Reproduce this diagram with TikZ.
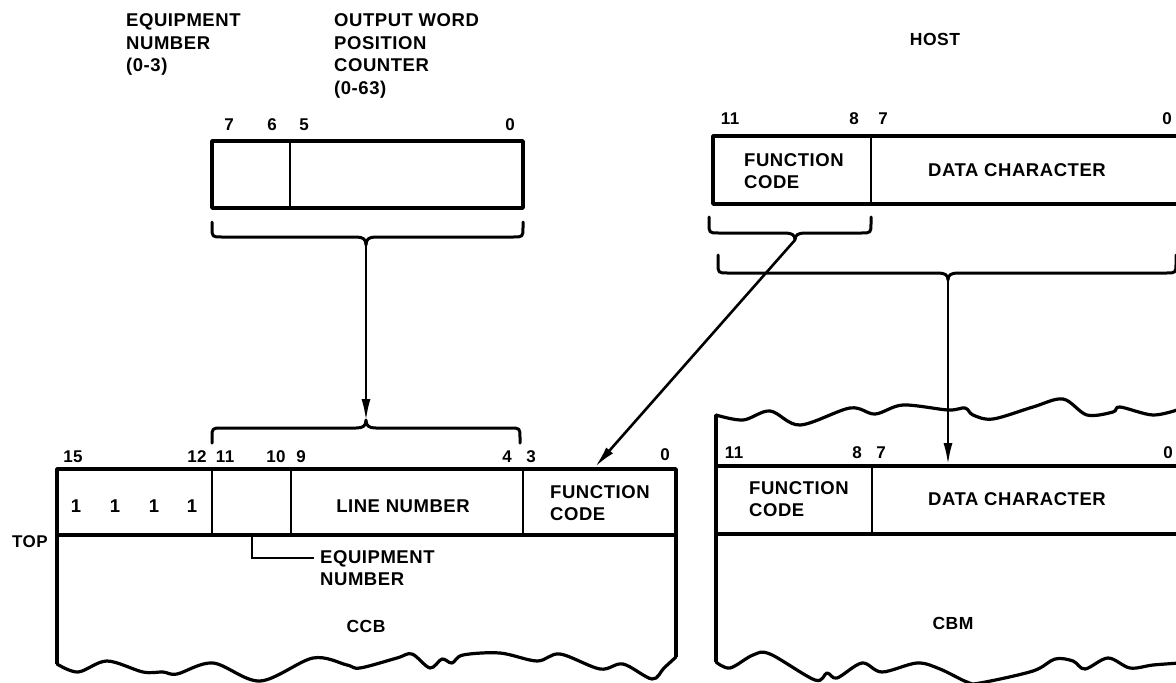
\documentclass[tikz,border=0pt]{standalone}
\usepackage{fontspec}
\setmainfont{Liberation Sans}[LetterSpace=3]
\usetikzlibrary{arrows.meta}
\tikzset{
  boxline/.style={line width=3.4pt, line join=round},
  divline/.style={line width=2.5pt},
  braceline/.style={line width=3pt, line join=round, line cap=round},
  lbl/.style={font=\fontsize{18.5}{22.5}\selectfont\bfseries, inner sep=0pt, align=left},
  num/.style={font=\fontsize{17}{19}\selectfont\bfseries, inner sep=0pt},
  arr/.style={line width=2.6pt, -{Latex[length=22pt,width=9pt]}},
  wave/.style={line width=3.2pt, line join=round, line cap=round}
}
\begin{document}
\begin{tikzpicture}[x=1pt,y=-1pt]
\useasboundingbox (0,0) rectangle (1176,683);
\clip (0,0) rectangle (1176,683);

% ---------- top-left heading texts
\node[lbl, anchor=north west] (eqhead) at (126,13.5) {EQUIPMENT\\NUMBER\\(0-3)};
\node[lbl, anchor=north west] (owhead) at (334,13.5) {OUTPUT WORD\\POSITION\\COUNTER\\(0-63)};
\node[lbl, font=\fontsize{17.5}{20}\selectfont\bfseries] (host) at (935,39) {HOST};

% ---------- top-left register
\node[num] (t7) at (229,125) {7};
\node[num] (t6) at (272,125) {6};
\node[num] (t5) at (304,125) {5};
\node[num] (t0) at (510,125) {0};
\draw[boxline] (212,141) rectangle (523,208);
\draw[divline] (290,141) -- (290,208);

% brace below it
\draw[braceline] (212,222) -- (212,227) .. controls (212,237) .. (222,237) -- (356,237)
  .. controls (363,237) and (366,239) .. (366,245)
  .. controls (366,239) and (369,237) .. (376,237) -- (513,237)
  .. controls (523,237) .. (523,227) -- (523,222);
\coordinate (b1) at (366,245);

% ---------- host register
\node[num] (h11) at (730,119) {11};
\node[num] (h8) at (854,119) {8};
\node[num] (h7) at (883,119) {7};
\node[num] (h0) at (1167,119) {0};
\draw[boxline] (713,136) rectangle (1190,204);
\draw[divline] (871,136) -- (871,204);
\node[lbl, anchor=west] (hfc) at (744,171) {FUNCTION\\CODE};
\node[lbl] (hdc) at (1017,170) {DATA CHARACTER};

% small brace under host function code
\draw[braceline] (709,217) -- (709,223) .. controls (709,233) .. (719,233) -- (785,233)
  .. controls (792,233) and (795,235) .. (795,240)
  .. controls (795,235) and (798,233) .. (805,233) -- (861,233)
  .. controls (871,233) .. (871,223) -- (871,217);
\coordinate (b3) at (795,240);

% large brace under host word
\draw[braceline] (718,255) -- (718,263) .. controls (718,273) .. (728,273) -- (938,273)
  .. controls (945,273) and (948,275) .. (948,280)
  .. controls (948,275) and (951,273) .. (958,273) -- (1166,273)
  .. controls (1176,273) .. (1176,263) -- (1176,255);
\coordinate (b4) at (948,280);

% ---------- brace above CCB
\draw[braceline] (212,443) -- (212,438) .. controls (212,428) .. (222,428) -- (356,428)
  .. controls (363,428) and (366,426) .. (366,420)
  .. controls (366,426) and (369,428) .. (376,428) -- (510,428)
  .. controls (520,428) .. (520,438) -- (520,443);
\coordinate (b2) at (366,421);

% ---------- CCB
\node[num] (c15) at (73,457) {15};
\node[num] (c12) at (197,457) {12};
\node[num] (c11) at (225,457) {11};
\node[num] (c10) at (276,457) {10};
\node[num] (c9) at (301,457) {9};
\node[num] (c4) at (507,457) {4};
\node[num] (c3) at (531,457) {3};
\node[num] (c0) at (665,455) {0};
\draw[boxline] (57,664) -- (57,469) -- (676,469) -- (676,657);
\draw[boxline] (57,535) -- (676,535);
\draw[divline] (212,469) -- (212,535);
\draw[divline] (291,469) -- (291,535);
\draw[divline] (523,469) -- (523,535);
\draw[wave] plot[smooth, tension=0.55] coordinates {(57,664) (78,672) (107,661) (143,672) (163,672) (177,674) (213,663) (260,681) (313,658) (347,665) (360,668) (397,658) (412,654) (430,668) (442,659) (452,663) (463,655) (500,653) (537,661) (560,654) (600,669) (623,664) (652,679) (664,668) (676,657)};
\node[lbl] (one1) at (76,506) {1};
\node[lbl] (one2) at (115,506) {1};
\node[lbl] (one3) at (154,506) {1};
\node[lbl] (one4) at (192,506) {1};
\node[lbl] (lnum) at (403,506) {LINE NUMBER};
\node[lbl, anchor=west] (cfc) at (550,503) {FUNCTION\\CODE};
\node[lbl, font=\fontsize{17}{19}\selectfont\bfseries] (top) at (30,542) {TOP};
\coordinate (eqa) at (252,535);
\coordinate (eqb) at (314,558);
\draw[divline] (eqa) |- (eqb);
\node[lbl, anchor=west] (ceq) at (320,568) {EQUIPMENT\\NUMBER};
\node[lbl, font=\fontsize{17.5}{20}\selectfont\bfseries] (ccb) at (366,626) {CCB};

% ---------- CBM
\node[num] (m11) at (734,453) {11};
\node[num] (m8) at (857,453) {8};
\node[num] (m7) at (881,453) {7};
\node[num] (m0) at (1168,453) {0};
\draw[wave] plot[smooth, tension=0.55] coordinates {(716,415) (743,420) (770,411) (800,425) (850,408) (875,414) (903,405) (948,410) (965,408) (973,415) (993,419) (1033,407) (1063,399) (1087,415) (1113,412) (1120,407) (1153,415) (1180,409)};
\draw[boxline] (716,415) -- (716,662);
\draw[boxline] (716,466) -- (1190,466);
\draw[boxline] (716,534) -- (1190,534);
\draw[divline] (872,466) -- (872,534);
\draw[wave] plot[smooth, tension=0.55] coordinates {(716,662) (730,668) (753,655) (770,654) (815,680) (827,673) (837,678) (862,663) (882,672) (917,663) (940,669) (967,682) (980,683) (1033,671) (1055,659) (1073,661) (1085,669) (1108,658) (1130,668) (1153,665) (1180,663)};
\node[lbl, anchor=west] (mfc) at (749,499) {FUNCTION\\CODE};
\node[lbl] (mdc) at (1017,499) {DATA CHARACTER};
\node[lbl, font=\fontsize{17.5}{20}\selectfont\bfseries] (cbm) at (953,623) {CBM};

% ---------- connectors
\coordinate (ccbfc) at (595,467);
\coordinate (cbmdc) at (948,465);
\draw[arr] (b1) -- (b2);
\draw[arr] (b3) -- (ccbfc);
\draw[arr] (b4) -- (cbmdc);
\end{tikzpicture}
\end{document}
